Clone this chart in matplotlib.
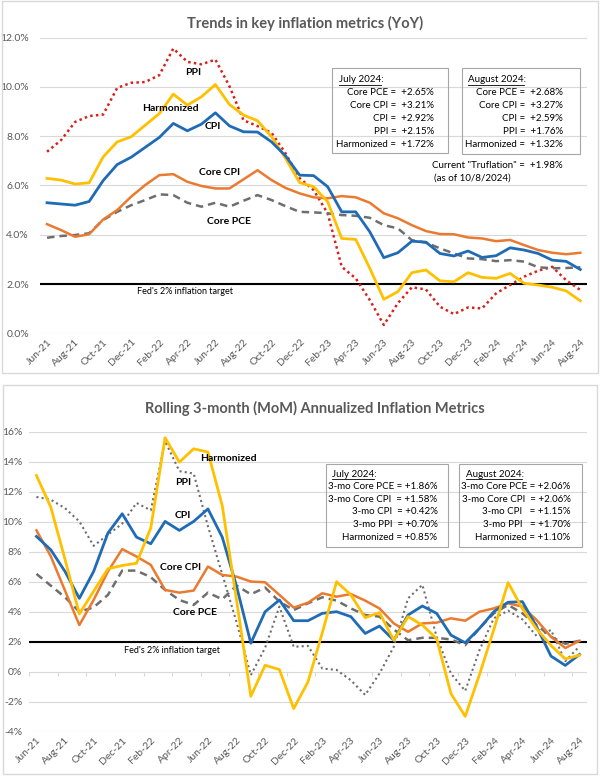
import numpy as np
import pandas as pd
import matplotlib
matplotlib.use("Agg")
import matplotlib.pyplot as plt
from matplotlib.patches import Rectangle
from matplotlib.lines import Line2D

plt.rcParams['font.family'] = ['Lato', 'DejaVu Sans']

# months Jun-21 .. Aug-24
months = [d.strftime('%b-%y') for d in pd.date_range('2021-06-01', periods=39, freq='MS')]

# --- YoY (top chart) ---
cpi_yoy = [5.30, 5.25, 5.20, 5.35, 6.20, 6.85, 7.15, 7.55, 7.95, 8.52, 8.22, 8.49, 8.95, 8.42,
           8.18, 8.17, 7.77, 7.20, 6.42, 6.40, 5.95, 4.93, 4.93, 4.12, 3.07, 3.27, 3.74, 3.70,
           3.24, 3.14, 3.34, 3.08, 3.15, 3.47, 3.38, 3.24, 2.97, 2.92, 2.59]
core_cpi_yoy = [4.43, 4.19, 3.92, 4.02, 4.62, 5.00, 5.55, 6.02, 6.42, 6.46, 6.15, 5.98, 5.88,
                5.88, 6.25, 6.62, 6.22, 5.90, 5.68, 5.52, 5.48, 5.57, 5.52, 5.30, 4.87, 4.67,
                4.39, 4.15, 4.03, 4.02, 3.89, 3.85, 3.74, 3.79, 3.58, 3.38, 3.27, 3.21, 3.27]
core_pce_yoy = [3.88, 3.95, 3.99, 4.06, 4.60, 4.93, 5.20, 5.41, 5.64, 5.61, 5.30, 5.14, 5.30,
                5.14, 5.38, 5.61, 5.41, 5.16, 4.93, 4.91, 4.87, 4.80, 4.77, 4.69, 4.39, 4.26,
                3.78, 3.68, 3.45, 3.24, 3.04, 3.01, 2.93, 2.97, 2.91, 2.68, 2.64, 2.65, 2.68]
harmonized_yoy = [6.29, 6.22, 6.06, 6.11, 7.16, 7.77, 7.98, 8.45, 8.92, 9.71, 9.26, 9.60, 10.10,
                  9.29, 8.86, 8.63, 7.98, 7.10, 6.12, 5.95, 5.34, 3.85, 3.81, 2.64, 1.38, 1.69,
                  2.46, 2.57, 2.13, 2.09, 2.46, 2.27, 2.23, 2.43, 2.03, 1.96, 1.87, 1.72, 1.32]
ppi_yoy = [7.37, 7.84, 8.58, 8.82, 8.88, 9.96, 10.17, 10.20, 10.48, 11.56, 11.02, 10.92, 11.11,
           10.03, 8.65, 8.41, 8.14, 7.30, 6.30, 5.81, 4.87, 2.70, 2.23, 1.35, 0.34, 1.22, 1.87,
           1.78, 1.08, 0.78, 1.05, 1.01, 1.62, 1.96, 2.30, 2.54, 2.70, 2.15, 1.76]

# --- rolling 3-month annualized (bottom chart) ---
cpi_3m = [9.02, 8.13, 6.68, 4.89, 6.68, 9.24, 10.53, 8.97, 8.53, 10.02, 9.42, 10.02, 10.85, 8.97,
          5.70, 1.90, 4.00, 4.78, 3.40, 3.40, 3.89, 4.00, 3.67, 2.55, 3.04, 2.10, 3.78, 4.38,
          3.89, 2.44, 1.93, 2.89, 4.00, 4.63, 4.67, 3.00, 1.04, 0.42, 1.15]
core_cpi_3m = [9.42, 7.70, 5.40, 3.11, 4.78, 6.68, 8.17, 7.68, 7.12, 5.45, 5.27, 5.41, 7.01, 6.45,
               6.34, 6.01, 5.96, 5.12, 4.27, 4.60, 5.23, 5.00, 5.18, 4.74, 4.22, 3.22, 2.66,
               3.22, 3.27, 3.56, 3.40, 4.00, 4.22, 4.56, 4.34, 3.44, 2.33, 1.58, 2.06]
core_pce_3m = [6.52, 5.74, 4.96, 4.00, 4.29, 5.12, 6.74, 6.74, 6.30, 5.45, 4.78, 4.45, 5.27, 4.83,
               5.74, 5.16, 5.61, 4.67, 4.11, 4.56, 4.96, 4.74, 4.22, 3.78, 3.67, 2.82, 2.10,
               2.26, 2.26, 2.15, 1.77, 2.89, 3.89, 4.45, 3.89, 3.11, 2.33, 1.86, 2.06]
harmonized_3m = [13.08, 10.98, 7.49, 3.85, 5.36, 6.86, 7.08, 7.23, 9.58, 15.60, 13.97, 14.86,
                 14.64, 11.07, 4.78, -1.64, 0.43, 0.14, -2.46, -0.68, 2.60, 6.00, 5.12, 3.60,
                 3.94, 2.10, 3.67, 3.11, 2.20, -1.46, -2.98, -0.19, 2.80, 5.94, 4.20, 2.85, 1.75,
                 0.85, 1.10]
ppi_3m = [11.65, 11.47, 10.90, 10.02, 8.39, 9.13, 9.87, 11.25, 10.76, 15.37, 13.37, 13.21, 9.70,
          6.50, 3.30, -0.23, 1.60, 4.34, 1.66, 1.72, 0.21, 0.12, -0.57, -1.55, -0.12, 1.66, 4.89,
          5.79, 2.33, -0.12, -1.28, 1.44, 3.56, 4.07, 3.49, 2.37, 2.78, 0.70, 1.70]

top_box1 = ["Core PCE =  +2.65%", "Core CPI =  +3.21%", "CPI =  +2.92%", "PPI =  +2.15%",
            "Harmonized =  +1.72%"]
top_box2 = ["Core PCE =  +2.68%", "Core CPI =  +3.27%", "CPI =  +2.59%", "PPI =  +1.76%",
            "Harmonized =  +1.32%"]
bot_box1 = ["3-mo Core PCE = +1.86%", "3-mo Core CPI  = +1.58%", "3-mo CPI  = +0.42%",
            "3-mo PPI  = +0.70%", "Harmonized = +0.85%"]
bot_box2 = ["3-mo Core PCE = +2.06%", "3-mo Core CPI  = +2.06%", "3-mo CPI   = +1.15%",
            "3-mo PPI   = +1.70%", "Harmonized = +1.10%"]

BLUE = '#1f6bb5'
ORANGE = '#ea7a30'
YELLOW = '#ffc000'
GREY = '#6e6e6e'
RED = '#d7221c'
TXT = '#595959'
GRID = '#d9d9d9'

W, H = 600, 777


def px(x, y):
    return x / W, 1 - y / H


fig = plt.figure(figsize=(6, 7.77), dpi=100)
x = np.arange(len(months))

# chart borders
for (x0, y0, x1, y1) in [(1.7, 1, 598.3, 372.7), (2.7, 385, 596.7, 774)]:
    fig.add_artist(Rectangle(px(x0, y1), (x1 - x0) / W, (y1 - y0) / H, transform=fig.transFigure,
                             fill=False, ec=GRID, lw=1))


def style_axes(ax, ylim, step, fmt, ypad):
    ax.set_xlim(-0.5, len(months) - 0.5)
    ax.set_ylim(*ylim)
    ax.set_yticks(np.arange(ylim[0], ylim[1] + 0.01, step))
    ax.yaxis.set_major_formatter(plt.FuncFormatter(lambda v, p: fmt.format(v)))
    ax.grid(axis='y', color=GRID, lw=0.8)
    ax.set_axisbelow(True)
    for s in ax.spines.values():
        s.set_visible(False)
    ax.set_xticks(x[::2])
    ax.set_xticklabels(months[::2], rotation=45, ha='right', rotation_mode='anchor')
    ax.tick_params(axis='both', length=0, colors=TXT, labelsize=7.5)
    ax.tick_params(axis='y', pad=ypad)
    ax.tick_params(axis='x', pad=3)
    ax.axhline(2, color='black', lw=1.5, zorder=3)


# ---------------- top chart ----------------
ax1 = fig.add_axes([40 / W, 1 - 333.3 / H, (587.3 - 40) / W, (333.3 - 37.7) / H])
style_axes(ax1, (0, 12), 2, '{:.1f}%', 8)
ax1.plot(x, ppi_yoy, color=RED, lw=1.8, ls=(0, (1, 1.3)), zorder=4)
ax1.plot(x, core_pce_yoy, color=GREY, lw=1.8, ls=(0, (3, 2)), zorder=4)
ax1.plot(x, core_cpi_yoy, color=ORANGE, lw=1.8, zorder=4)
ax1.plot(x, harmonized_yoy, color=YELLOW, lw=2, zorder=4)
ax1.plot(x, cpi_yoy, color=BLUE, lw=2, zorder=5)

lab = dict(fontsize=7.5, fontweight='bold', ha='center', va='center', zorder=6)
ax1.text(10.4, 10.6, 'PPI', **lab)
ax1.text(8.8, 9.13, 'Harmonized', **lab)
ax1.text(11.8, 8.38, 'CPI', **lab)
ax1.text(12.3, 6.52, 'Core CPI', **lab)
ax1.text(13.0, 4.53, 'Core PCE', **lab)
ax1.text(9.8, 1.69, "Fed's 2% inflation target", fontsize=6.5, ha='center', va='center')

fig.text(*px(305, 23), 'Trends in key inflation metrics (YoY)', fontsize=10.5, fontweight='bold',
         color=TXT, ha='center', va='center')

# ---------------- bottom chart ----------------
ax2 = fig.add_axes([29.3 / W, 1 - 731.7 / H, (586.7 - 29.3) / W, 300 / H])
style_axes(ax2, (-4, 16), 2, '{:.0f}%', 5)
ax2.vlines(np.arange(-0.5, len(months), 2), -0.27, 0, color=GRID, lw=0.8)
ax2.plot(x, ppi_3m, color=GREY, lw=1.5, ls=(0, (1, 1.5)), zorder=4)
ax2.plot(x, core_pce_3m, color=GREY, lw=1.8, ls=(0, (3, 2)), zorder=4)
ax2.plot(x, core_cpi_3m, color=ORANGE, lw=1.8, zorder=4)
ax2.plot(x, cpi_3m, color=BLUE, lw=2, zorder=5)
ax2.plot(x, harmonized_3m, color=YELLOW, lw=2, zorder=5)

ax2.text(13.45, 14.2, 'Harmonized', **lab)
ax2.text(10.3, 12.6, 'PPI', **lab)
ax2.text(10.25, 10.4, 'CPI', **lab)
ax2.text(10.06, 6.97, 'Core CPI', **lab)
ax2.text(11.1, 3.93, 'Core PCE', **lab)
ax2.text(9.5, 1.39, "Fed's 2% inflation target", fontsize=6.5, ha='center', va='center')

fig.text(*px(315, 408), 'Rolling 3-month (MoM) Annualized Inflation Metrics', fontsize=10.5,
         fontweight='bold', color=TXT, ha='center', va='center')

# ---------------- text boxes ----------------
headers = []


def draw_box(x0, y0, x1, y1, header, lines, right, hx, ys):
    fig.add_artist(Rectangle(px(x0, y1), (x1 - x0) / W, (y1 - y0) / H, transform=fig.transFigure,
                             fill=False, ec='#a6a6a6', lw=0.8, zorder=10))
    t = fig.text(*px(hx, ys[0]), header, fontsize=7, ha='left', va='center', zorder=11)
    fig.text(*px(hx, ys[0]), header + ':', fontsize=7, ha='left', va='center', zorder=11)
    t.set_alpha(0)
    headers.append((t, ys[0]))
    for ln, yy in zip(lines, ys[1:]):
        fig.text(*px(right, yy), ln, fontsize=7, ha='right', va='center', zorder=11)


ys_top = [80, 92.7, 105.5, 118.5, 131.5, 144.5]
draw_box(332.3, 68.3, 448.3, 153.3, 'July 2024', top_box1, 434, 339, ys_top)
draw_box(461.7, 68.3, 580, 154, 'August 2024', top_box2, 563, 468, ys_top)
fig.text(*px(563, 165.7), 'Current "Truflation" =  +1.98%', fontsize=7, ha='right', va='center')
fig.text(*px(433.5, 178.3), '(as of 10/8/2024)', fontsize=7, ha='left', va='center')

ys_bot = [474.3, 486.7, 499, 511.7, 524.3, 537.3]
draw_box(325.7, 464, 448.3, 546.7, 'July 2024', bot_box1, 437.5, 331.7, ys_bot)
draw_box(459.3, 464, 581.7, 547.3, 'August 2024', bot_box2, 570.5, 466, ys_bot)

# underline the box headers
fig.canvas.draw()
r = fig.canvas.get_renderer()
for t, yy in headers:
    bb = t.get_window_extent(r)
    fig.add_artist(Line2D([bb.x0 / W, bb.x1 / W], [1 - (yy + 5) / H] * 2,
                          transform=fig.transFigure, color='black', lw=0.6, zorder=12))

fig.savefig('out.png', dpi=100)
